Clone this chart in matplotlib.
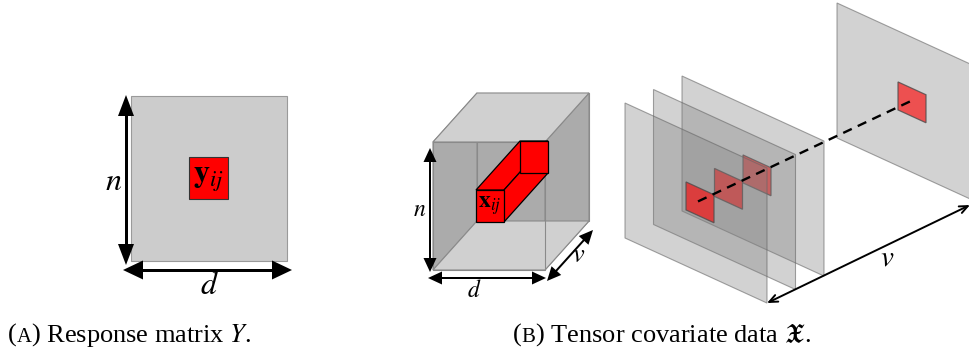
import matplotlib.pyplot as plt
import numpy as np
from matplotlib.patches import Polygon, FancyArrowPatch

plt.rcParams['mathtext.fontset'] = 'stix'
plt.rcParams['font.family'] = ['Liberation Serif', 'DejaVu Serif']

# texts
caption_tags = ['A', 'B']
caption_texts = [' Response matrix $Y$.', ' Tensor covariate data $\\mathfrak{X}$.']
matrix_labels = ['$n$', '$d$', '$\\mathbf{y}_{ij}$']
cube_labels = ['$n$', '$d$', '$v$', '$\\mathbf{x}_{ij}$']
slice_label = '$v$'
n_front_slices = 3

# colours
light = '#d0d0d0'
dark = '#ababab'
edge = '#8a8a8a'

fig = plt.figure(figsize=(9.7, 3.54), dpi=100)
ax = fig.add_axes([0, 0, 1, 1])
ax.set_xlim(0, 970)
ax.set_ylim(354, 0)
ax.axis('off')


def quad(pts, **kw):
    ax.add_patch(Polygon(np.array(pts, dtype=float), closed=True, **kw))


def arrow2(p0, p1, lw, hl, hw):
    # line with two filled triangle heads, all in pixel units
    p0 = np.array(p0, float)
    p1 = np.array(p1, float)
    u = (p1 - p0) / np.hypot(*(p1 - p0))
    nrm = np.array([-u[1], u[0]])
    a = p0 + u * hl * 0.9
    b = p1 - u * hl * 0.9
    ax.plot([a[0], b[0]], [a[1], b[1]], color='k', lw=lw * 0.72, solid_capstyle='butt')
    for tip, d in ((p1, -u), (p0, u)):
        base = tip + d * hl
        quad([tip, base + nrm * hw / 2, base - nrm * hw / 2], color='k', lw=0)


# ---------------- (A) matrix ----------------
mx, my, mw, mh = 131, 96, 156, 165
quad([(mx, my), (mx + mw, my), (mx + mw, my + mh), (mx, my + mh)],
     facecolor='#cccccc', edgecolor='#9a9a9a', lw=0.8)
cx, cy, cw, ch = 189, 157, 39, 42
quad([(cx, cy), (cx + cw, cy), (cx + cw, cy + ch), (cx, cy + ch)],
     facecolor='#ff0000', edgecolor='#333333', lw=0.8)
ax.text(cx + cw / 2, cy + ch / 2 + 1, matrix_labels[2], fontsize=23,
        ha='center', va='center')
arrow2((126, 95), (126, 265), 3, 21, 16)
arrow2((123, 270), (292, 270), 3, 20, 19)
ax.text(114, 182, matrix_labels[0], fontsize=23, ha='center', va='center')
ax.text(209, 287, matrix_labels[1], fontsize=23, ha='center', va='center')

# ---------------- (B) cube ----------------
fx, fy, fw, fh = 433, 142, 112, 128
dep = np.array([44, -49])
A = np.array([fx, fy]); B = np.array([fx + fw, fy])
C = np.array([fx + fw, fy + fh]); D = np.array([fx, fy + fh])
quad([A + dep, B + dep, C + dep, D + dep], facecolor=dark, edgecolor=edge, lw=0.8)
quad([A, A + dep, D + dep, D], facecolor=dark, edgecolor=edge, lw=0.8)
quad([B, B + dep, C + dep, C], facecolor=dark, edgecolor=edge, lw=0.8)
quad([A, B, B + dep, A + dep], facecolor=light, edgecolor=edge, lw=0.8)
quad([D, C, C + dep, D + dep], facecolor=light, edgecolor=edge, lw=0.8)
quad([A, B, C, D], fill=False, edgecolor=edge, lw=0.8)

# red fibre x_ij through the depth
P = np.array([476, 190]); bw, bh = 28, 32
e1 = np.array([bw, 0]); e2 = np.array([0, bh])
quad([P, P + e1, P + e1 + dep, P + dep], facecolor='#ff0000', edgecolor='k', lw=0.9)
quad([P + e1, P + e1 + dep, P + e1 + e2 + dep, P + e1 + e2],
     facecolor='#ff0000', edgecolor='k', lw=0.9)
quad([P + dep, P + dep + e1, P + dep + e1 + e2, P + dep + e2],
     facecolor='#ff0000', edgecolor='k', lw=0.9)
quad([P, P + e1, P + e1 + e2, P + e2], facecolor='#ff0000', edgecolor='k', lw=0.9)
ax.text(P[0] + bw / 2, P[1] + bh / 2, cube_labels[3], fontsize=17,
        ha='center', va='center')

arrow2((430, 148), (430, 272), 2, 14, 13)
arrow2((428, 278), (546, 278), 2, 14, 13)
arrow2((547, 281), (593, 230), 2, 14, 13)
ax.text(420, 210, cube_labels[0], fontsize=17, ha='center', va='center')
ax.text(474, 291, cube_labels[1], fontsize=17, ha='center', va='center')
ax.text(579, 256, cube_labels[2], fontsize=19, ha='center', va='center')

# ---------------- (B) slices ----------------
pw, ph, skew = 142, 135, 0.458
step = np.array([28.5, -13.5])
first = np.array([625, 103])
far = np.array([837, 3])
su, sv, ss = 61, 51, 28


def plane(o):
    return [o, o + [pw, pw * skew], o + [pw, ph + pw * skew], o + [0, ph]]


def loc(o, u, v):
    return o + np.array([u, v + u * skew])


def square(o):
    return [loc(o, su, sv), loc(o, su + ss, sv), loc(o, su + ss, sv + ss), loc(o, su, sv + ss)]


origins = [far] + [first + step * k for k in range(n_front_slices - 1, -1, -1)]
for o in origins:
    quad(plane(o), facecolor=(0.5, 0.5, 0.5, 0.35), edgecolor=(0.4, 0.4, 0.4, 0.6), lw=0.8)
    quad(square(o), facecolor=(1, 0, 0, 0.62), edgecolor=(0.3, 0.3, 0.3, 0.8), lw=0.9)

c0 = loc(first, su + ss / 2 - 2, sv + ss / 2)
c1 = loc(far, su + ss / 2 - 2, sv + ss / 2)
ax.plot([c0[0], c1[0]], [c0[1], c1[1]], color='k', lw=1.7, dashes=(4, 2.8))

corner = first + [pw, ph + pw * skew]
ax.add_patch(FancyArrowPatch(tuple(corner), (970, 205),
                             arrowstyle='<->,head_length=6,head_width=2.6',
                             mutation_scale=1, lw=1.4, color='k',
                             shrinkA=0, shrinkB=0))
ax.text(887, 258, slice_label, fontsize=21, ha='center', va='center')

# ---------------- captions ----------------
renderer = fig.canvas.get_renderer()


def caption(x, y, tag, rest, size=19):
    for s, fs in (('(', size), (tag, size * 0.78), (')', size), (rest, size)):
        t = ax.text(x, y, s, fontsize=fs, va='baseline', ha='left')
        x += t.get_window_extent(renderer).width


caption(8, 342, caption_tags[0], caption_texts[0])
caption(513, 342, caption_tags[1], caption_texts[1])

fig.savefig('out.png', dpi=100)
